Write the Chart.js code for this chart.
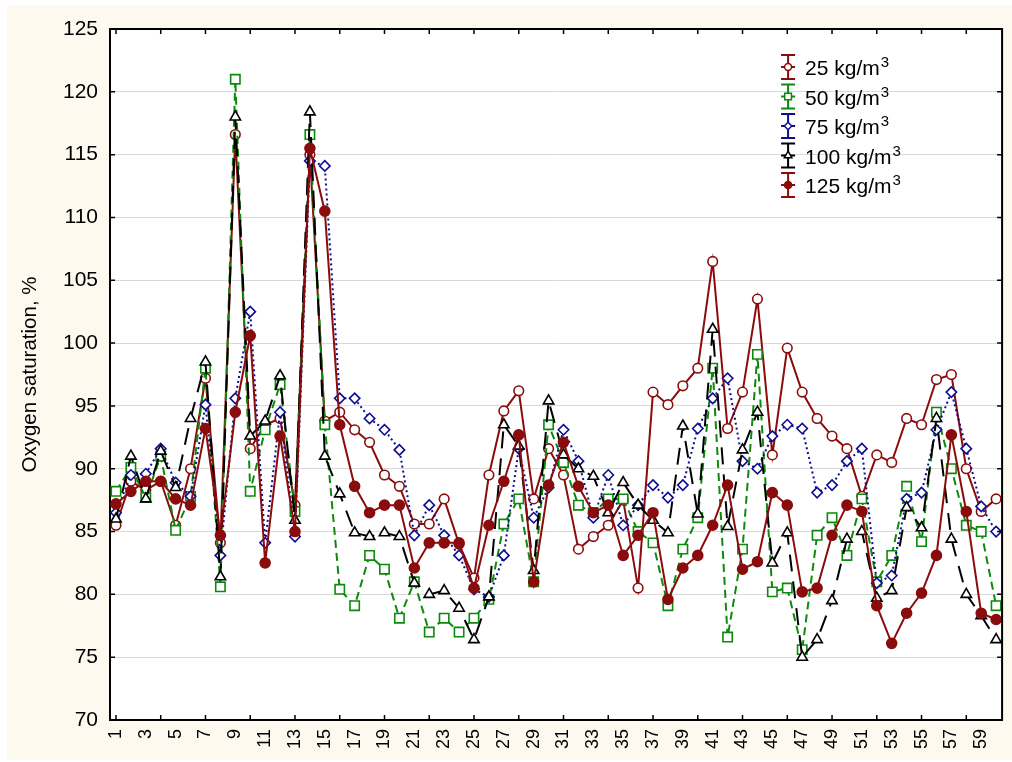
<!DOCTYPE html>
<html>
<head>
<meta charset="utf-8">
<script src="https://cdn.jsdelivr.net/npm/chart.js@4/dist/chart.umd.min.js"></script>
<style>
  html, body { margin: 0; padding: 0; background: #ffffff; }
  #wrap { position: relative; width: 1012px; height: 762px; }
  #paper { position: absolute; left: 7px; top: 5px; width: 1005px; height: 755px; background: #fdf9ef; }
  #chart { position: absolute; left: 0; top: 0; }
</style>
</head>
<body>
<div id="wrap"><div id="paper"></div><canvas id="chart" width="1012" height="762"></canvas></div>
<script>
'use strict';

// ***** DATA *****
let samples = [1, 2, 3, 4, 5, 6, 7, 8, 9, 10, 11, 12, 13, 14, 15, 16, 17, 18, 19, 20,
  21, 22, 23, 24, 25, 26, 27, 28, 29, 30, 31, 32, 33, 34, 35, 36, 37, 38, 39, 40,
  41, 42, 43, 44, 45, 46, 47, 48, 49, 50, 51, 52, 53, 54, 55, 56, 57, 58, 59, 60];

let xTickLabels = [1, 3, 5, 7, 9, 11, 13, 15, 17, 19, 21, 23, 25, 27, 29,
  31, 33, 35, 37, 39, 41, 43, 45, 47, 49, 51, 53, 55, 57, 59];
let xTickMarks = [1, 4, 7, 10, 13, 16, 19, 22, 25, 28, 31, 34, 37, 40, 43,
  46, 49, 52, 55, 58];
let yTickLabels = [70, 75, 80, 85, 90, 95, 100, 105, 110, 115, 120, 125];

let seriesNames = ['25 kg/m', '50 kg/m', '75 kg/m', '100 kg/m', '125 kg/m'];

let d25 = [85.5, 89.0, 88.3, 89.0, 85.5, 90.0, 97.2, 84.1, 116.6, 91.6,
  93.5, 94.0, 87.1, 115.0, 93.8, 94.5, 93.1, 92.1, 89.5, 88.6,
  85.6, 85.6, 87.6, 84.0, 81.3, 89.5, 94.6, 96.2, 87.6, 91.6,
  89.5, 83.6, 84.6, 85.5, 87.5, 80.5, 96.1, 95.1, 96.6, 98.0,
  106.5, 93.2, 96.1, 103.5, 91.1, 99.6, 96.1, 94.0, 92.6, 91.6,
  87.8, 91.1, 90.5, 94.0, 93.5, 97.1, 97.5, 90.0, 86.6, 87.6];

let d50 = [88.2, 90.1, 87.7, 91.0, 85.1, 87.8, 98.0, 80.6, 121.0, 88.2,
  93.1, 96.7, 86.6, 116.6, 93.5, 80.4, 79.1, 83.1, 82.0, 78.1,
  81.0, 77.0, 78.1, 77.0, 78.1, 79.6, 85.6, 87.6, 81.0, 93.5,
  90.5, 87.1, 86.5, 87.6, 87.6, 85.0, 84.1, 79.1, 83.6, 86.1,
  98.0, 76.6, 83.6, 99.1, 80.2, 80.5, 75.6, 84.7, 86.1, 83.1,
  87.6, 81.0, 83.1, 88.6, 84.2, 94.5, 90.0, 85.5, 85.0, 79.1];

let d75 = [86.5, 89.5, 89.6, 91.6, 88.9, 87.8, 95.1, 83.1, 95.6, 102.5,
  84.1, 94.5, 84.6, 114.5, 114.1, 95.6, 95.6, 94.0, 93.1, 91.5,
  84.7, 87.1, 84.7, 83.1, 80.4, 79.8, 83.1, 91.6, 86.1, 88.5,
  93.1, 90.6, 86.1, 89.5, 85.5, 87.1, 88.7, 87.7, 88.7, 93.2,
  95.6, 97.2, 90.6, 90.0, 92.6, 93.5, 93.2, 88.1, 88.7, 90.6,
  91.6, 80.9, 81.5, 87.6, 88.1, 93.1, 96.1, 91.6, 87.0, 85.0];

let d100 = [86.0, 91.0, 87.6, 91.4, 88.5, 94.0, 98.5, 81.4, 118.0, 92.6,
  93.8, 97.4, 85.9, 118.4, 91.0, 88.0, 84.9, 84.6, 84.9, 84.6,
  80.9, 80.0, 80.3, 78.9, 76.4, 79.8, 93.5, 91.8, 81.9, 95.4,
  91.1, 90.0, 89.4, 86.5, 88.9, 87.1, 85.9, 84.9, 93.4, 86.4,
  101.1, 85.4, 91.5, 94.5, 82.5, 84.9, 75.0, 76.4, 79.5, 84.4,
  85.0, 79.7, 80.3, 86.9, 85.3, 94.0, 84.4, 80.0, 78.3, 76.4];

let d125 = [87.2, 88.2, 89.0, 89.0, 87.6, 87.1, 93.2, 84.7, 94.5, 100.6,
  82.5, 92.6, 85.0, 115.5, 110.5, 93.5, 88.6, 86.5, 87.1, 87.1,
  82.1, 84.1, 84.1, 84.1, 80.5, 85.5, 89.0, 92.7, 81.0, 88.7,
  92.1, 88.6, 86.5, 87.1, 83.1, 84.7, 86.5, 79.6, 82.1, 83.1,
  85.5, 88.7, 82.0, 82.6, 88.1, 87.1, 80.2, 80.5, 84.7, 87.1,
  86.6, 79.1, 76.1, 78.5, 80.1, 83.1, 92.7, 86.6, 78.5, 78.0];

// ***** STYLE *****
let darkRed = '#8a0c0c';
let green = '#0b8a0b';
let navy = '#0d0d8f';
let fontFamily = '"Liberation Sans", Arial, sans-serif';

function toPoints(values) {
  return values.map((v, i) => ({ x: samples[i], y: v }));
}

function makeSet(idx, values, color, style, radius, fill, dash, order) {
  return {
    label: seriesNames[idx],
    data: toPoints(values),
    borderColor: color,
    backgroundColor: color,
    borderWidth: 2,
    borderDash: dash,
    pointStyle: style,
    pointRadius: radius,
    pointBorderColor: color,
    pointBackgroundColor: fill,
    pointBorderWidth: 1.6,
    tension: 0,
    order: order
  };
}

let datasets = [
  makeSet(0, d25, darkRed, 'circle', 4.8, '#ffffff', [], 5),
  makeSet(1, d50, green, 'rect', 6.6, '#ffffff', [8, 5], 4),
  makeSet(2, d75, navy, 'rectRot', 5.2, '#ffffff', [2, 3], 3),
  makeSet(3, d100, '#000000', 'triangle', 6, '#ffffff', [17, 10], 2),
  makeSet(4, d125, darkRed, 'circle', 5, darkRed, [], 1)
];

// ***** PLUGINS *****
// white plot area, frame box and small inward ticks
let framePlugin = {
  id: 'frame',
  beforeDraw(chart) {
    let a = chart.chartArea;
    let ctx = chart.ctx;
    ctx.save();
    ctx.fillStyle = '#ffffff';
    ctx.fillRect(a.left, a.top, a.right - a.left, a.bottom - a.top);
    ctx.restore();
  },
  afterDraw(chart) {
    let a = chart.chartArea;
    let ctx = chart.ctx;
    let y = chart.scales.y;
    let x = chart.scales.x;
    ctx.save();
    ctx.strokeStyle = '#000000';
    ctx.lineWidth = 2;
    ctx.beginPath();
    ctx.moveTo(a.left - 1, a.top);
    ctx.lineTo(a.right, a.top);
    ctx.lineTo(a.right, a.bottom + 1);
    ctx.stroke();
    ctx.lineWidth = 1.5;
    ctx.beginPath();
    yTickLabels.forEach(v => {
      let py = y.getPixelForValue(v);
      ctx.moveTo(a.left, py);
      ctx.lineTo(a.left + 5, py);
      ctx.moveTo(a.right, py);
      ctx.lineTo(a.right - 5, py);
    });
    xTickMarks.forEach(v => {
      let px = x.getPixelForValue(v);
      ctx.moveTo(px, a.top);
      ctx.lineTo(px, a.top + 5);
      ctx.moveTo(px, a.bottom);
      ctx.lineTo(px, a.bottom - 5);
    });
    ctx.stroke();
    ctx.restore();
  }
};

// legend with error-bar style icons, drawn inside the plot
let legendPlugin = {
  id: 'innerLegend',
  afterDraw(chart) {
    let a = chart.chartArea;
    let ctx = chart.ctx;
    let x0 = a.right - 214;
    let y0 = a.top + 38;
    ctx.save();
    chart.data.datasets.forEach((ds, i) => {
      let cy = y0 + i * 29.5;
      ctx.strokeStyle = ds.borderColor;
      ctx.lineWidth = 2;
      ctx.setLineDash([]);
      ctx.beginPath();
      ctx.moveTo(x0, cy - 12);
      ctx.lineTo(x0, cy + 12);
      ctx.moveTo(x0 - 7, cy - 12);
      ctx.lineTo(x0 + 7, cy - 12);
      ctx.moveTo(x0 - 7, cy + 12);
      ctx.lineTo(x0 + 7, cy + 12);
      ctx.moveTo(x0 - 7, cy);
      ctx.lineTo(x0 + 7, cy);
      ctx.stroke();
      ctx.fillStyle = ds.pointBackgroundColor;
      ctx.lineWidth = 1.5;
      Chart.helpers.drawPoint(ctx, {
        pointStyle: ds.pointStyle,
        radius: ds.pointRadius * 0.72,
        rotation: 0,
        borderWidth: 1.5
      }, x0, cy);
      ctx.fillStyle = '#000000';
      ctx.textBaseline = 'alphabetic';
      ctx.font = '21px ' + fontFamily;
      let tx = x0 + 17;
      let base = cy + 8;
      ctx.fillText(ds.label, tx, base);
      let w = ctx.measureText(ds.label).width;
      ctx.font = '15px ' + fontFamily;
      ctx.fillText('3', tx + w + 1, base - 8);
    });
    ctx.restore();
  }
};

// ***** CHART *****
let canvasElem = document.getElementById('chart');

let chartObj = {
  type: 'line',
  data: { datasets: datasets },
  options: {
    responsive: false,
    animation: false,
    layout: { padding: { left: 0, right: 7, top: 29, bottom: 0 } },
    plugins: {
      legend: { display: false },
      tooltip: { enabled: false }
    },
    scales: {
      x: {
        type: 'linear',
        min: 0.6,
        max: 60.4,
        afterBuildTicks: scale => { scale.ticks = xTickLabels.map(v => ({ value: v })); },
        afterFit: scale => { scale.height = 42; },
        grid: { display: false, drawTicks: false },
        border: { display: true, color: '#000000', width: 2 },
        ticks: {
          autoSkip: false,
          minRotation: 90,
          maxRotation: 90,
          padding: 9,
          color: '#000000',
          font: { family: fontFamily, size: 18 },
          callback: v => String(v)
        }
      },
      y: {
        min: 70,
        max: 125,
        afterBuildTicks: scale => { scale.ticks = yTickLabels.map(v => ({ value: v })); },
        afterFit: scale => { scale.width = 110; },
        grid: { color: '#d9d9d9', lineWidth: 1, drawTicks: false },
        border: { display: true, color: '#000000', width: 2 },
        ticks: {
          padding: 12,
          color: '#000000',
          font: { family: fontFamily, size: 21 }
        },
        title: {
          display: true,
          text: 'Oxygen saturation, %',
          color: '#000000',
          font: { family: fontFamily, size: 20.5 },
          padding: { top: 18, bottom: 0 }
        }
      }
    }
  },
  plugins: [framePlugin, legendPlugin]
};

new Chart(canvasElem, chartObj);
</script>
</body>
</html>
